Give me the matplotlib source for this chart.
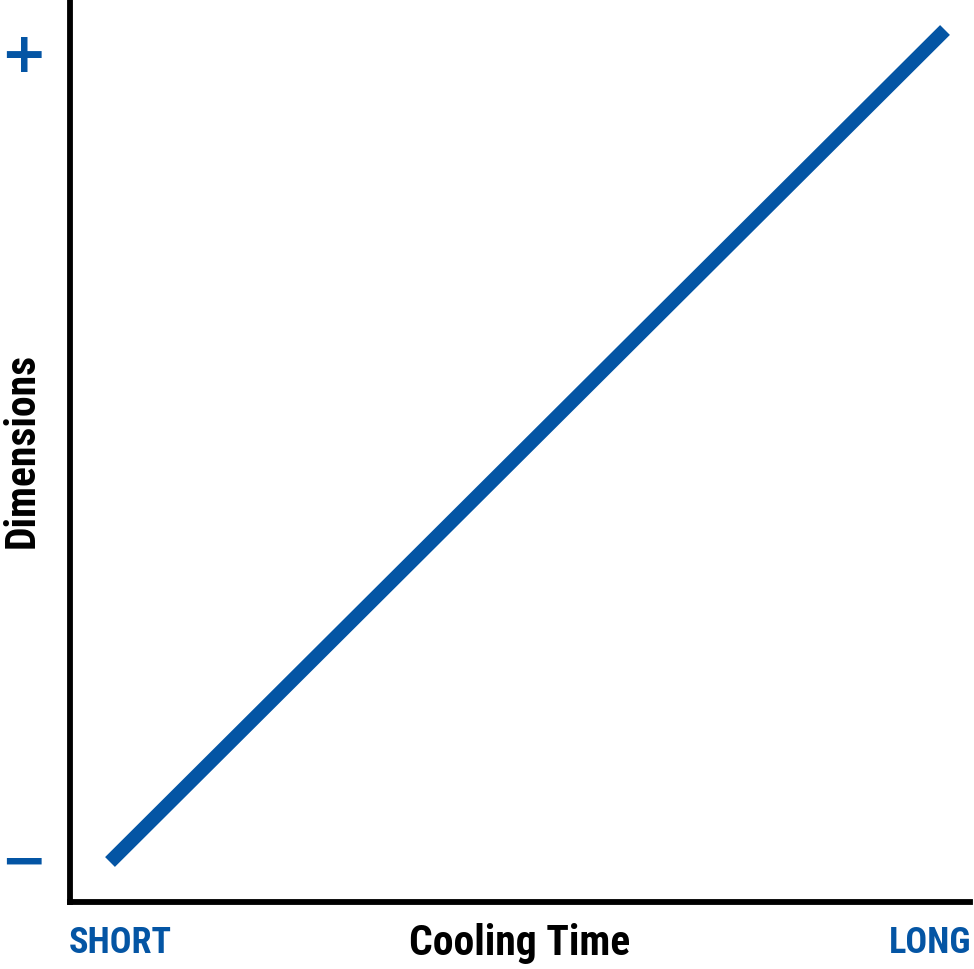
import matplotlib
matplotlib.use("Agg")
import matplotlib.pyplot as plt
from matplotlib import font_manager

# data
cooling_time = [0.0, 1.0]
dimensions = [0.0, 1.0]
x_labels = ["SHORT", "LONG"]
y_labels = ["\u2212", "+"]
x_title = "Cooling Time"
y_title = "Dimensions"

names = {f.name for f in font_manager.fontManager.ttflist}
fam = None
for cand in ["Liberation Sans Narrow", "DejaVu Sans Condensed", "Roboto Condensed", "Liberation Sans"]:
    if cand in names:
        fam = cand
        break
plt.rcParams['font.family'] = [fam, 'DejaVu Sans']

BLUE = "#0455a4"
W, H = 974, 969
fig = plt.figure(figsize=(W / 100, H / 100), dpi=100)
ax = fig.add_axes([70 / W, 67 / H, 900 / W, 900 / H])
ax.plot(cooling_time, dimensions, color=BLUE, lw=10, solid_capstyle='butt')
ax.set_xlim(-40 / 835, 860 / 835)
ax.set_ylim(-40 / 832, 860 / 832)
for s in ['top', 'right']:
    ax.spines[s].set_visible(False)
for s in ['left', 'bottom']:
    ax.spines[s].set_linewidth(4.2)
    ax.spines[s].set_color('black')
ax.set_xticks([])
ax.set_yticks([])

fig.text(120 / W, 1 - 943 / H, x_labels[0], color=BLUE, fontsize=26, fontweight='bold', ha='center', va='center')
fig.text(930 / W, 1 - 943 / H, x_labels[1], color=BLUE, fontsize=26, fontweight='bold', ha='center', va='center')
fig.text(520 / W, 1 - 943 / H, x_title, color='black', fontsize=30, fontweight='bold', ha='center', va='center')
fig.text(22 / W, 1 - 450 / H, y_title, color='black', fontsize=30, fontweight='bold', ha='center', va='center', rotation=90)
fig.text(23 / W, 1 - 57 / H, y_labels[1], color=BLUE, fontsize=40, fontweight='bold', ha='center', va='center', family='DejaVu Sans')
fig.text(23 / W, 1 - 864 / H, y_labels[0], color=BLUE, fontsize=40, fontweight='bold', ha='center', va='center', family='DejaVu Sans')

fig.savefig("out.png", dpi=100)
